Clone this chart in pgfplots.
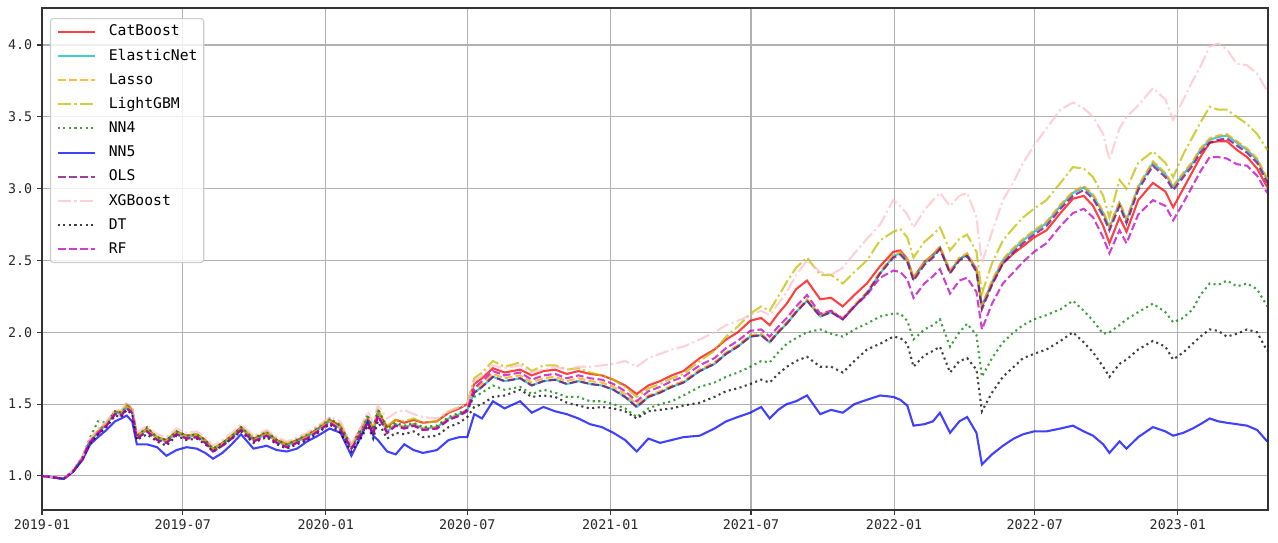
\documentclass[border=0pt]{standalone}
\usepackage{pgfplots}
\usepackage{pgfplotstable}
\pgfplotsset{compat=1.18}
\usepackage{fontspec}
\setmainfont{DejaVu Sans Mono}
\definecolor{mcyan}{rgb}{0,0.75,0.75}
\definecolor{morange}{rgb}{1,0.647,0}
\definecolor{molive}{rgb}{0.75,0.75,0}
\definecolor{mgreen}{rgb}{0,0.5,0}
\definecolor{mblue}{rgb}{0,0,1}
\definecolor{mpurple}{rgb}{0.5,0,0.5}
\definecolor{mpink}{rgb}{1,0.753,0.796}
\definecolor{mmag}{rgb}{0.75,0,0.75}
\definecolor{mgrid}{rgb}{0.69,0.69,0.69}
\pgfplotstableread{
d E La C LG NFour NFive O X DT RF
0 1.00 1.00 1.00 1.00 1.00 1.00 1.00 1.00 1.00 1.00
14 0.99 0.99 0.99 0.99 0.99 0.99 0.99 0.99 0.99 0.99
28 0.98 0.98 0.98 0.98 0.98 0.98 0.98 0.98 0.98 0.98
40 1.03 1.03 1.03 1.04 1.04 1.03 1.03 1.04 1.03 1.03
52 1.12 1.12 1.13 1.13 1.13 1.11 1.12 1.13 1.12 1.12
62 1.24 1.24 1.25 1.25 1.27 1.22 1.23 1.26 1.23 1.24
72 1.30 1.31 1.31 1.32 1.38 1.27 1.29 1.33 1.29 1.30
83 1.36 1.36 1.37 1.37 1.37 1.32 1.35 1.38 1.34 1.35
94 1.44 1.44 1.45 1.45 1.45 1.38 1.43 1.46 1.42 1.43
102 1.43 1.43 1.44 1.45 1.44 1.40 1.42 1.46 1.41 1.42
109 1.48 1.48 1.49 1.50 1.51 1.42 1.47 1.51 1.46 1.47
116 1.45 1.45 1.46 1.47 1.47 1.38 1.44 1.48 1.43 1.44
122 1.27 1.27 1.28 1.28 1.28 1.22 1.26 1.30 1.25 1.26
135 1.32 1.32 1.33 1.33 1.34 1.22 1.31 1.35 1.29 1.31
148 1.26 1.26 1.27 1.27 1.27 1.20 1.25 1.29 1.24 1.25
160 1.24 1.24 1.25 1.25 1.25 1.14 1.23 1.27 1.21 1.23
173 1.30 1.30 1.31 1.31 1.31 1.18 1.29 1.33 1.28 1.29
186 1.27 1.27 1.28 1.28 1.28 1.20 1.26 1.30 1.25 1.26
199 1.28 1.28 1.29 1.29 1.29 1.19 1.27 1.31 1.26 1.27
210 1.24 1.24 1.25 1.25 1.25 1.16 1.23 1.27 1.22 1.23
220 1.18 1.18 1.19 1.19 1.19 1.12 1.17 1.21 1.17 1.17
232 1.22 1.22 1.23 1.23 1.23 1.16 1.21 1.25 1.21 1.21
244 1.27 1.27 1.28 1.28 1.28 1.22 1.26 1.30 1.26 1.26
256 1.33 1.33 1.34 1.34 1.34 1.29 1.32 1.36 1.31 1.32
272 1.25 1.25 1.26 1.27 1.26 1.19 1.24 1.28 1.23 1.24
289 1.29 1.29 1.30 1.31 1.31 1.21 1.28 1.32 1.27 1.28
302 1.24 1.24 1.25 1.26 1.25 1.18 1.23 1.27 1.22 1.23
315 1.21 1.21 1.22 1.23 1.22 1.17 1.20 1.24 1.19 1.20
328 1.24 1.24 1.25 1.26 1.25 1.19 1.23 1.27 1.22 1.23
341 1.27 1.27 1.28 1.29 1.29 1.24 1.26 1.30 1.25 1.26
355 1.32 1.32 1.33 1.34 1.34 1.28 1.31 1.35 1.30 1.31
370 1.38 1.38 1.39 1.40 1.40 1.33 1.37 1.41 1.36 1.37
384 1.33 1.33 1.35 1.36 1.35 1.30 1.32 1.38 1.30 1.32
398 1.20 1.20 1.21 1.21 1.20 1.14 1.19 1.22 1.17 1.19
410 1.30 1.30 1.33 1.33 1.32 1.27 1.29 1.34 1.26 1.29
419 1.38 1.38 1.40 1.41 1.43 1.38 1.37 1.45 1.35 1.37
426 1.30 1.30 1.33 1.33 1.32 1.28 1.29 1.37 1.26 1.29
432 1.43 1.43 1.45 1.46 1.47 1.25 1.42 1.49 1.38 1.42
444 1.31 1.31 1.34 1.35 1.33 1.17 1.30 1.40 1.26 1.30
455 1.36 1.36 1.39 1.39 1.37 1.15 1.35 1.44 1.30 1.35
466 1.34 1.34 1.37 1.38 1.35 1.22 1.33 1.46 1.29 1.33
478 1.36 1.36 1.39 1.40 1.37 1.18 1.35 1.43 1.31 1.35
490 1.33 1.33 1.37 1.37 1.34 1.16 1.32 1.41 1.27 1.32
508 1.34 1.34 1.38 1.38 1.35 1.18 1.33 1.40 1.28 1.33
523 1.40 1.40 1.44 1.45 1.41 1.25 1.39 1.45 1.34 1.39
537 1.43 1.43 1.47 1.48 1.44 1.27 1.42 1.48 1.37 1.42
547 1.46 1.46 1.50 1.51 1.46 1.27 1.45 1.50 1.41 1.46
556 1.58 1.60 1.64 1.68 1.55 1.43 1.58 1.66 1.48 1.61
566 1.62 1.64 1.68 1.72 1.58 1.40 1.62 1.70 1.50 1.66
580 1.69 1.71 1.75 1.80 1.63 1.52 1.69 1.77 1.55 1.73
595 1.66 1.68 1.72 1.76 1.60 1.47 1.66 1.75 1.56 1.70
615 1.68 1.70 1.74 1.79 1.62 1.52 1.68 1.77 1.60 1.72
630 1.63 1.65 1.70 1.73 1.57 1.44 1.63 1.72 1.55 1.67
645 1.66 1.68 1.73 1.77 1.60 1.48 1.66 1.74 1.56 1.70
660 1.67 1.69 1.74 1.77 1.58 1.45 1.67 1.76 1.55 1.71
675 1.64 1.66 1.71 1.74 1.55 1.43 1.64 1.74 1.51 1.68
690 1.66 1.68 1.73 1.75 1.55 1.40 1.66 1.76 1.49 1.70
705 1.64 1.66 1.71 1.72 1.52 1.36 1.64 1.76 1.47 1.68
720 1.63 1.65 1.70 1.70 1.52 1.34 1.63 1.77 1.48 1.67
735 1.60 1.62 1.67 1.67 1.50 1.30 1.60 1.78 1.47 1.64
750 1.55 1.57 1.63 1.62 1.47 1.25 1.55 1.80 1.45 1.59
765 1.48 1.50 1.57 1.55 1.41 1.17 1.48 1.76 1.40 1.52
780 1.55 1.56 1.63 1.61 1.47 1.26 1.55 1.82 1.45 1.59
795 1.58 1.59 1.66 1.64 1.50 1.23 1.58 1.85 1.46 1.62
810 1.62 1.63 1.70 1.68 1.52 1.25 1.62 1.88 1.47 1.66
825 1.65 1.66 1.73 1.71 1.56 1.27 1.65 1.90 1.49 1.69
846 1.73 1.74 1.82 1.80 1.62 1.28 1.73 1.95 1.51 1.77
865 1.78 1.79 1.88 1.87 1.65 1.33 1.78 2.00 1.55 1.82
880 1.85 1.86 1.95 1.97 1.69 1.38 1.85 2.05 1.59 1.89
895 1.90 1.91 2.00 2.04 1.72 1.41 1.90 2.08 1.61 1.94
911 1.97 1.98 2.08 2.13 1.76 1.44 1.97 2.12 1.64 2.01
925 1.98 1.99 2.10 2.18 1.80 1.48 1.98 2.15 1.67 2.02
936 1.93 1.94 2.05 2.15 1.79 1.40 1.93 2.12 1.65 1.97
947 2.00 2.01 2.13 2.25 1.86 1.46 2.00 2.20 1.71 2.04
958 2.06 2.07 2.20 2.35 1.92 1.50 2.06 2.28 1.76 2.10
970 2.14 2.15 2.30 2.45 1.96 1.52 2.14 2.40 1.80 2.18
984 2.22 2.23 2.36 2.52 2.00 1.56 2.22 2.50 1.83 2.26
1001 2.11 2.12 2.23 2.40 2.02 1.43 2.11 2.42 1.76 2.13
1015 2.14 2.15 2.24 2.40 1.99 1.46 2.14 2.40 1.76 2.15
1030 2.09 2.10 2.18 2.34 1.97 1.44 2.09 2.45 1.72 2.09
1045 2.18 2.19 2.26 2.42 2.02 1.50 2.18 2.55 1.80 2.18
1061 2.27 2.28 2.34 2.50 2.06 1.53 2.27 2.65 1.88 2.26
1078 2.41 2.42 2.46 2.64 2.11 1.56 2.41 2.75 1.92 2.38
1095 2.53 2.54 2.56 2.70 2.13 1.55 2.52 2.92 1.97 2.43
1104 2.55 2.56 2.57 2.72 2.13 1.53 2.54 2.88 1.96 2.42
1113 2.50 2.51 2.51 2.66 2.08 1.49 2.49 2.82 1.92 2.37
1121 2.37 2.38 2.38 2.52 1.95 1.35 2.36 2.73 1.76 2.24
1135 2.48 2.49 2.49 2.63 2.02 1.36 2.47 2.85 1.84 2.34
1146 2.53 2.54 2.54 2.68 2.05 1.38 2.52 2.92 1.87 2.39
1155 2.59 2.60 2.59 2.73 2.09 1.44 2.58 2.97 1.90 2.44
1168 2.42 2.43 2.42 2.57 1.90 1.30 2.41 2.88 1.72 2.27
1180 2.51 2.52 2.51 2.65 2.00 1.38 2.50 2.95 1.80 2.36
1190 2.54 2.55 2.54 2.68 2.06 1.41 2.53 2.97 1.82 2.38
1202 2.43 2.44 2.44 2.56 1.98 1.30 2.42 2.80 1.74 2.28
1209 2.18 2.19 2.18 2.27 1.69 1.08 2.16 2.48 1.45 2.02
1222 2.35 2.36 2.34 2.48 1.82 1.15 2.33 2.70 1.58 2.20
1236 2.50 2.51 2.48 2.64 1.93 1.21 2.48 2.92 1.69 2.34
1250 2.58 2.59 2.55 2.73 2.00 1.26 2.56 3.05 1.76 2.42
1262 2.64 2.65 2.60 2.80 2.05 1.29 2.62 3.18 1.82 2.49
1276 2.70 2.71 2.66 2.86 2.09 1.31 2.68 3.30 1.85 2.56
1292 2.76 2.77 2.71 2.92 2.12 1.31 2.74 3.42 1.88 2.62
1310 2.88 2.89 2.83 3.04 2.16 1.33 2.86 3.55 1.94 2.74
1326 2.97 2.98 2.93 3.15 2.22 1.35 2.95 3.60 2.00 2.83
1340 3.01 3.02 2.95 3.14 2.15 1.31 2.99 3.56 1.93 2.86
1352 2.95 2.96 2.88 3.08 2.08 1.28 2.93 3.50 1.86 2.80
1365 2.83 2.84 2.74 2.95 1.99 1.22 2.81 3.38 1.76 2.66
1373 2.73 2.74 2.62 2.80 2.00 1.16 2.71 3.20 1.69 2.55
1386 2.90 2.91 2.80 3.06 2.05 1.24 2.88 3.42 1.78 2.71
1395 2.78 2.79 2.70 3.00 2.09 1.19 2.76 3.50 1.81 2.62
1410 3.01 3.02 2.92 3.18 2.14 1.27 2.99 3.58 1.88 2.82
1429 3.18 3.19 3.04 3.26 2.20 1.34 3.16 3.70 1.94 2.92
1445 3.10 3.11 2.98 3.18 2.14 1.31 3.08 3.62 1.90 2.88
1455 3.01 3.02 2.87 3.08 2.07 1.28 2.99 3.48 1.81 2.78
1468 3.10 3.11 3.00 3.24 2.10 1.30 3.08 3.62 1.86 2.90
1480 3.18 3.19 3.12 3.36 2.16 1.33 3.16 3.75 1.92 3.02
1490 3.27 3.28 3.22 3.46 2.26 1.36 3.25 3.85 1.97 3.12
1502 3.34 3.35 3.32 3.57 2.34 1.40 3.32 3.99 2.02 3.22
1513 3.36 3.37 3.33 3.55 2.33 1.38 3.34 4.01 2.01 3.22
1524 3.37 3.38 3.33 3.55 2.36 1.37 3.35 3.97 1.97 3.21
1537 3.32 3.33 3.27 3.50 2.32 1.36 3.30 3.87 1.99 3.17
1550 3.27 3.28 3.22 3.45 2.34 1.35 3.25 3.86 2.02 3.16
1563 3.20 3.21 3.14 3.38 2.30 1.32 3.18 3.80 2.00 3.09
1576 3.06 3.07 3.01 3.27 2.18 1.24 3.04 3.68 1.87 2.97
}\data
\begin{document}
\begin{tikzpicture}
\begin{axis}[
  scale only axis,
  width=882.7pt, height=361.4pt,
  xmin=0, xmax=1577, ymin=0.763, ymax=4.258,
  xtick={0,181,365,547,731,912,1096,1277,1461},
  xticklabels={2019-01,2019-07,2020-01,2020-07,2021-01,2021-07,2022-01,2022-07,2023-01},
  ytick={1.0,1.5,2.0,2.5,3.0,3.5,4.0},
  yticklabel style={/pgf/number format/.cd,fixed,fixed zerofill,precision=1},
  /pgf/number format/assume math mode=true,
  tick label style={font=\fontsize{9.6}{11}\selectfont, text=black!85},
  tick pos=left, tick align=outside, major tick length=3.5pt,
  tick style={black!80, line width=0.8pt},
  axis line style={black!80, line width=0.8pt},
  grid=major, major grid style={mgrid, line width=0.8pt},
  legend cell align=left,
  legend style={at={(0.0065,0.98)}, anchor=north west, draw=black!20, line width=0.8pt,
    rounded corners=2pt, fill=white, fill opacity=0.8, text opacity=1,
    font=\fontsize{10.6}{12}\selectfont, inner sep=4.5pt, row sep=7.4pt, column sep=9.4pt,
    nodes={inner sep=0pt, text height=8pt, text depth=2pt}},
  legend image code/.code={\draw[#1] (0pt,0pt) -- (26.6pt,0pt);},
  every axis plot/.append style={line width=1.5pt, opacity=0.75},
]
\addplot[red, solid] table[x=d,y=C]{\data};
\addlegendentry{CatBoost}
\addplot[mcyan, solid] table[x=d,y=E]{\data};
\addlegendentry{ElasticNet}
\addplot[morange, dash pattern=on 5.55pt off 2.4pt] table[x=d,y=La]{\data};
\addlegendentry{Lasso}
\addplot[molive, dash pattern=on 9.6pt off 2.4pt on 1.5pt off 2.4pt] table[x=d,y=LG]{\data};
\addlegendentry{LightGBM}
\addplot[mgreen, dash pattern=on 1.5pt off 2.5pt] table[x=d,y=NFour]{\data};
\addlegendentry{NN4}
\addplot[mblue, solid] table[x=d,y=NFive]{\data};
\addlegendentry{NN5}
\addplot[mpurple, dash pattern=on 5.55pt off 2.4pt] table[x=d,y=O]{\data};
\addlegendentry{OLS}
\addplot[mpink, dash pattern=on 9.6pt off 2.4pt on 1.5pt off 2.4pt] table[x=d,y=X]{\data};
\addlegendentry{XGBoost}
\addplot[black, dash pattern=on 1.5pt off 2.5pt] table[x=d,y=DT]{\data};
\addlegendentry{DT}
\addplot[mmag, dash pattern=on 5.55pt off 2.4pt] table[x=d,y=RF]{\data};
\addlegendentry{RF}
\end{axis}
\path (current axis.south west) ++(-30.24pt,-23.76pt);
\path (current axis.north east) ++(7.2pt,5.76pt);
\end{tikzpicture}
\end{document}
